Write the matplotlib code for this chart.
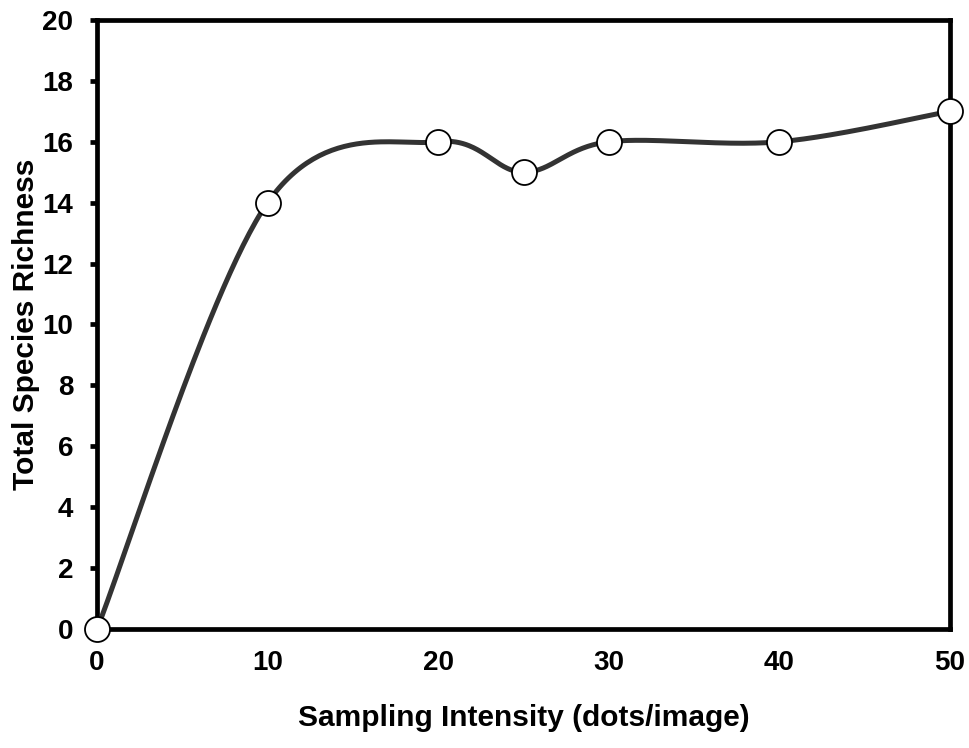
import numpy as np
import matplotlib
matplotlib.use("Agg")
import matplotlib.pyplot as plt

x_vals = [0, 10, 20, 25, 30, 40, 50]
y_vals = [0, 14, 16, 15, 16, 16, 17]
y_ticks = [0, 2, 4, 6, 8, 10, 12, 14, 16, 18, 20]
x_ticks = [0, 10, 20, 30, 40, 50]

plt.rcParams['font.family'] = ['Liberation Sans', 'DejaVu Sans']
plt.rcParams['font.weight'] = 'bold'

fig = plt.figure(figsize=(9.69, 7.48), dpi=100)
ax = fig.add_axes([0.1001, 0.1591, 0.8803, 0.8142])
ax.set_xlim(0, 50)
ax.set_ylim(0, 20)

ASPECT = (0.8142 * 7.48) / (0.8803 * 9.69)


def smooth(xs, ys, n=60):
    # Catmull-Rom style bezier smoothing (Excel-like) in normalized space
    px = np.array(xs, float) / 50.0
    py = np.array(ys, float) / 20.0 * ASPECT
    P = np.column_stack([px, py])
    out = []
    m = len(P)
    for i in range(m - 1):
        p0 = P[i - 1] if i > 0 else P[i]
        p1 = P[i]
        p2 = P[i + 1]
        p3 = P[i + 2] if i + 2 < m else P[i + 1]
        c1 = p1 + (p2 - p0) / 6.0
        c2 = p2 - (p3 - p1) / 6.0
        t = np.linspace(0, 1, n)[:, None]
        seg = ((1 - t) ** 3) * p1 + 3 * ((1 - t) ** 2) * t * c1 + 3 * (1 - t) * t ** 2 * c2 + t ** 3 * p2
        out.append(seg if i == 0 else seg[1:])
    S = np.vstack(out)
    return S[:, 0] * 50.0, S[:, 1] * 20.0 / ASPECT


sx, sy = smooth(x_vals, y_vals)
ax.plot(sx, sy, color='#333333', lw=3.6, solid_capstyle='round', zorder=3, clip_on=False)
ax.plot(x_vals, y_vals, 'o', ms=18, mfc='white', mec='black', mew=1.3, zorder=4, clip_on=False)

for s in ax.spines.values():
    s.set_linewidth(3.4)
    s.set_color('black')
    s.set_zorder(2)

ax.set_yticks(y_ticks)
ax.set_xticks(x_ticks)
ax.tick_params(axis='y', direction='out', length=5, width=3.4, labelsize=20, pad=12)
ax.tick_params(axis='x', length=0, labelsize=20, pad=15)
for lab in ax.get_xticklabels() + ax.get_yticklabels():
    lab.set_fontweight('bold')

ax.set_xlabel('Sampling Intensity (dots/image)', fontsize=21.5, fontweight='bold', labelpad=20)
ax.set_ylabel('Total Species Richness', fontsize=21.5, fontweight='bold', labelpad=2)

fig.savefig('out.png', dpi=100)
